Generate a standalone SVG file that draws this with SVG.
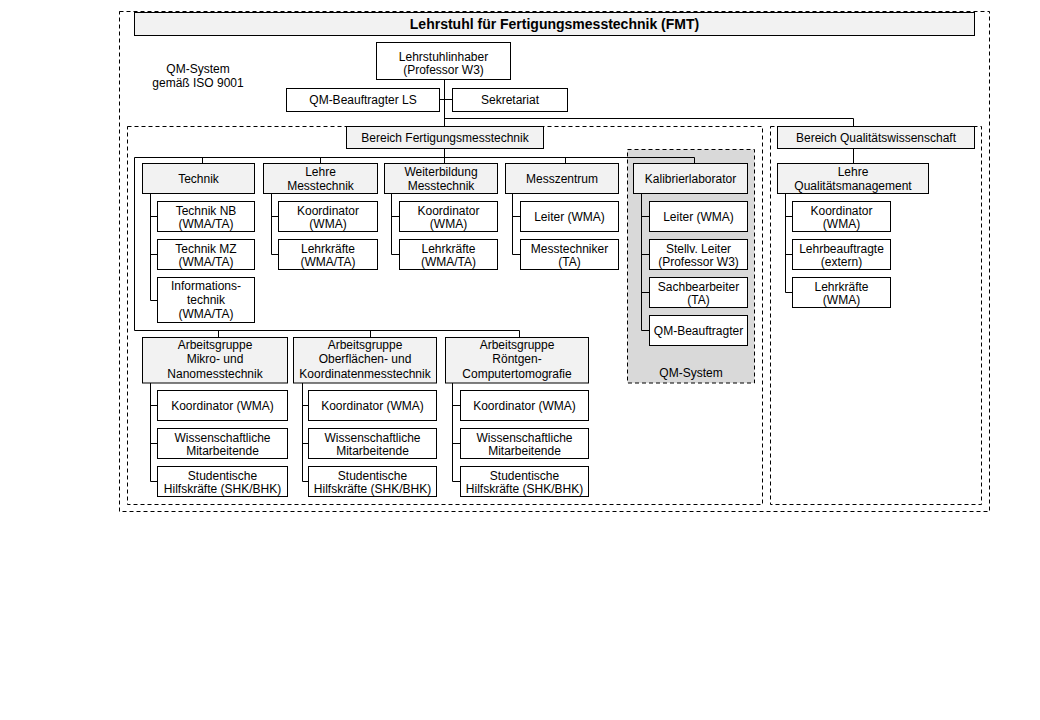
<svg xmlns="http://www.w3.org/2000/svg" width="1040" height="720" viewBox="0 0 1040 720">
<style>
.bx{fill:#ffffff;stroke:#000;stroke-width:1}
.gb{fill:#f2f2f2;stroke:#000;stroke-width:1}
.dash{fill:none;stroke:#000;stroke-width:1;stroke-dasharray:4,3}
.qm{fill:#d9d9d9;stroke:#000;stroke-width:1;stroke-dasharray:4,3}
.t{font-family:"Liberation Sans",Arial,sans-serif;font-size:12px;text-anchor:middle;fill:#000}
.tb{font-family:"Liberation Sans",Arial,sans-serif;font-size:14px;font-weight:bold;text-anchor:middle;fill:#000}
.c{fill:none;stroke:#000;stroke-width:1}
</style>
<rect width="1040" height="720" fill="#fff"/>
<g id="frames">
<rect class="dash" x="119.5" y="11.5" width="870" height="500"/>
<rect class="dash" x="127.5" y="126.5" width="635" height="378"/>
<rect class="dash" x="770.5" y="126.5" width="211" height="378"/>
<rect class="qm" x="627.5" y="149.5" width="127" height="233.5"/>
<text class="t" x="691" y="376.5">QM-System</text>
</g>
<g id="connectors">
<path class="c" d="M444.5,79.5V163.5M439.5,99.5H452.5M444.5,118.5H853.5V126.5M853.5,148.5V163.5"/>
<path class="c" d="M134.5,330.5V157.5H694.5V163.5M202.5,157.5V163.5M320.5,157.5V163.5M565.5,157.5V163.5"/>
<path class="c" d="M134.5,330.5H519.5V337.5M218.5,330.5V337.5M370.5,330.5V337.5"/>
<path class="c" d="M150.5,193.5V300.5M150.5,216.5H157.5M150.5,254.5H157.5M150.5,300.5H157.5"/>
<path class="c" d="M271.5,193.5V254.5M271.5,216.5H278.5M271.5,254.5H278.5"/>
<path class="c" d="M391.5,193.5V254.5M391.5,216.5H399.5M391.5,254.5H399.5"/>
<path class="c" d="M512.5,193.5V254.5M512.5,216.5H520.5M512.5,254.5H520.5"/>
<path class="c" d="M641.5,193.5V330.5M641.5,216.5H649.5M641.5,254.5H649.5M641.5,292.5H649.5M641.5,330.5H649.5"/>
<path class="c" d="M785.5,193.5V292.5M785.5,216.5H792.5M785.5,254.5H792.5M785.5,292.5H792.5"/>
<path class="c" d="M150.5,383V481.5M150.5,405.5H157.5M150.5,443.5H157.5M150.5,481.5H157.5"/>
<path class="c" d="M302.5,383V481.5M302.5,405.5H308.5M302.5,443.5H308.5M302.5,481.5H308.5"/>
<path class="c" d="M452.5,383V481.5M452.5,405.5H460.5M452.5,443.5H460.5M452.5,481.5H460.5"/>
</g>
<g id="title"><rect class="gb" x="134.5" y="12.5" width="840" height="23"/><text class="tb" x="554.5" y="29">Lehrstuhl für Fertigungsmesstechnik (FMT)</text></g>
<g id="qm-note"><text class="t" x="198" y="72.5">QM-System</text><text class="t" x="198" y="86.5">gemäß ISO 9001</text></g>
<g id="lehrstuhlinhaber"><rect class="bx" x="376.5" y="42.5" width="134" height="37"/><text class="t" x="443.5" y="60.5">Lehrstuhlinhaber</text><text class="t" x="443.5" y="74">(Professor W3)</text></g>
<g id="qm-beauftragter-ls"><rect class="bx" x="286.5" y="88.5" width="153" height="23"/><text class="t" x="363" y="104">QM-Beauftragter LS</text></g>
<g id="sekretariat"><rect class="bx" x="452.5" y="88.5" width="115" height="23"/><text class="t" x="510" y="104">Sekretariat</text></g>
<g id="bereich-fmt"><rect class="gb" x="346.5" y="126.5" width="197" height="22"/><text class="t" x="445" y="141.5">Bereich Fertigungsmesstechnik</text></g>
<g id="bereich-qw"><rect class="gb" x="777.5" y="126.5" width="197" height="22"/><text class="t" x="876" y="141.5">Bereich Qualitätswissenschaft</text></g>

<g id="technik"><rect class="gb" x="142.5" y="163.5" width="112" height="30"/><text class="t" x="198.5" y="182.5">Technik</text></g>
<g id="technik-nb"><rect class="bx" x="157.5" y="201.5" width="97" height="30"/><text class="t" x="206" y="215.3">Technik NB</text><text class="t" x="206" y="228.3">(WMA/TA)</text></g>
<g id="technik-mz"><rect class="bx" x="157.5" y="239.5" width="97" height="30"/><text class="t" x="206" y="253.3">Technik MZ</text><text class="t" x="206" y="266.3">(WMA/TA)</text></g>
<g id="informationstechnik"><rect class="bx" x="157.5" y="277.5" width="97" height="45"/><text class="t" x="206" y="290">Informations-</text><text class="t" x="206" y="304">technik</text><text class="t" x="206" y="318">(WMA/TA)</text></g>

<g id="lehre-mt"><rect class="gb" x="263.5" y="163.5" width="114" height="30"/><text class="t" x="320.5" y="176">Lehre</text><text class="t" x="320.5" y="189.5">Messtechnik</text></g>
<g id="lehre-mt-koord"><rect class="bx" x="278.5" y="201.5" width="99" height="30"/><text class="t" x="328" y="215.3">Koordinator</text><text class="t" x="328" y="228.3">(WMA)</text></g>
<g id="lehre-mt-lehrkraefte"><rect class="bx" x="278.5" y="239.5" width="99" height="30"/><text class="t" x="328" y="253.3">Lehrkräfte</text><text class="t" x="328" y="266.3">(WMA/TA)</text></g>

<g id="weiterbildung"><rect class="gb" x="384.5" y="163.5" width="113" height="30"/><text class="t" x="441" y="176">Weiterbildung</text><text class="t" x="441" y="189.5">Messtechnik</text></g>
<g id="weiterbildung-koord"><rect class="bx" x="399.5" y="201.5" width="98" height="30"/><text class="t" x="448.5" y="215.3">Koordinator</text><text class="t" x="448.5" y="228.3">(WMA)</text></g>
<g id="weiterbildung-lehrkraefte"><rect class="bx" x="399.5" y="239.5" width="98" height="30"/><text class="t" x="448.5" y="253.3">Lehrkräfte</text><text class="t" x="448.5" y="266.3">(WMA/TA)</text></g>

<g id="messzentrum"><rect class="gb" x="505.5" y="163.5" width="113" height="30"/><text class="t" x="562" y="182.5">Messzentrum</text></g>
<g id="messzentrum-leiter"><rect class="bx" x="520.5" y="201.5" width="98" height="30"/><text class="t" x="569.5" y="220.5">Leiter (WMA)</text></g>
<g id="messtechniker"><rect class="bx" x="520.5" y="239.5" width="98" height="30"/><text class="t" x="569.5" y="253.3">Messtechniker</text><text class="t" x="569.5" y="266.3">(TA)</text></g>

<g id="kalibrierlaborator"><rect class="gb" x="633.5" y="163.5" width="114" height="30"/><text class="t" x="690.5" y="182.5">Kalibrierlaborator</text></g>
<g id="kal-leiter"><rect class="bx" x="649.5" y="201.5" width="98" height="30"/><text class="t" x="698.5" y="220.5">Leiter (WMA)</text></g>
<g id="kal-stellv"><rect class="bx" x="649.5" y="239.5" width="98" height="30"/><text class="t" x="698.5" y="253.3">Stellv. Leiter</text><text class="t" x="698.5" y="266.3">(Professor W3)</text></g>
<g id="kal-sachbearbeiter"><rect class="bx" x="649.5" y="277.5" width="98" height="30"/><text class="t" x="698.5" y="291.3">Sachbearbeiter</text><text class="t" x="698.5" y="304.3">(TA)</text></g>
<g id="kal-qm"><rect class="bx" x="649.5" y="315.5" width="98" height="30"/><text class="t" x="698.5" y="334.5">QM-Beauftragter</text></g>

<g id="lehre-qm"><rect class="gb" x="777.5" y="163.5" width="151" height="30"/><text class="t" x="853" y="176">Lehre</text><text class="t" x="853" y="189.5">Qualitätsmanagement</text></g>
<g id="lqm-koord"><rect class="bx" x="792.5" y="201.5" width="98" height="30"/><text class="t" x="841.5" y="215.3">Koordinator</text><text class="t" x="841.5" y="228.3">(WMA)</text></g>
<g id="lqm-lehrbeauftragte"><rect class="bx" x="792.5" y="239.5" width="98" height="30"/><text class="t" x="841.5" y="253.3">Lehrbeauftragte</text><text class="t" x="841.5" y="266.3">(extern)</text></g>
<g id="lqm-lehrkraefte"><rect class="bx" x="792.5" y="277.5" width="98" height="30"/><text class="t" x="841.5" y="291.3">Lehrkräfte</text><text class="t" x="841.5" y="304.3">(WMA)</text></g>

<g id="ag-mikro"><rect class="gb" x="142.5" y="337.5" width="145" height="45.5"/><text class="t" x="215" y="349">Arbeitsgruppe</text><text class="t" x="215" y="363">Mikro- und</text><text class="t" x="215" y="377.5">Nanomesstechnik</text></g>
<g id="ag-mikro-koord"><rect class="bx" x="157.5" y="390.5" width="130" height="30"/><text class="t" x="222.5" y="409.5">Koordinator (WMA)</text></g>
<g id="ag-mikro-wm"><rect class="bx" x="157.5" y="428.5" width="130" height="30"/><text class="t" x="222.5" y="441.5">Wissenschaftliche</text><text class="t" x="222.5" y="455">Mitarbeitende</text></g>
<g id="ag-mikro-shk"><rect class="bx" x="157.5" y="466.5" width="130" height="30"/><text class="t" x="222.5" y="479.5">Studentische</text><text class="t" x="222.5" y="493">Hilfskräfte (SHK/BHK)</text></g>

<g id="ag-oberflaechen"><rect class="gb" x="293.5" y="337.5" width="143" height="45.5"/><text class="t" x="365" y="349">Arbeitsgruppe</text><text class="t" x="365" y="363">Oberflächen- und</text><text class="t" x="365" y="377.5">Koordinatenmesstechnik</text></g>
<g id="ag-ober-koord"><rect class="bx" x="308.5" y="390.5" width="128" height="30"/><text class="t" x="372.5" y="409.5">Koordinator (WMA)</text></g>
<g id="ag-ober-wm"><rect class="bx" x="308.5" y="428.5" width="128" height="30"/><text class="t" x="372.5" y="441.5">Wissenschaftliche</text><text class="t" x="372.5" y="455">Mitarbeitende</text></g>
<g id="ag-ober-shk"><rect class="bx" x="308.5" y="466.5" width="128" height="30"/><text class="t" x="372.5" y="479.5">Studentische</text><text class="t" x="372.5" y="493">Hilfskräfte (SHK/BHK)</text></g>

<g id="ag-ct"><rect class="gb" x="445.5" y="337.5" width="143" height="45.5"/><text class="t" x="517" y="349">Arbeitsgruppe</text><text class="t" x="517" y="363">Röntgen-</text><text class="t" x="517" y="377.5">Computertomografie</text></g>
<g id="ag-ct-koord"><rect class="bx" x="460.5" y="390.5" width="128" height="30"/><text class="t" x="524.5" y="409.5">Koordinator (WMA)</text></g>
<g id="ag-ct-wm"><rect class="bx" x="460.5" y="428.5" width="128" height="30"/><text class="t" x="524.5" y="441.5">Wissenschaftliche</text><text class="t" x="524.5" y="455">Mitarbeitende</text></g>
<g id="ag-ct-shk"><rect class="bx" x="460.5" y="466.5" width="128" height="30"/><text class="t" x="524.5" y="479.5">Studentische</text><text class="t" x="524.5" y="493">Hilfskräfte (SHK/BHK)</text></g>
</svg>
